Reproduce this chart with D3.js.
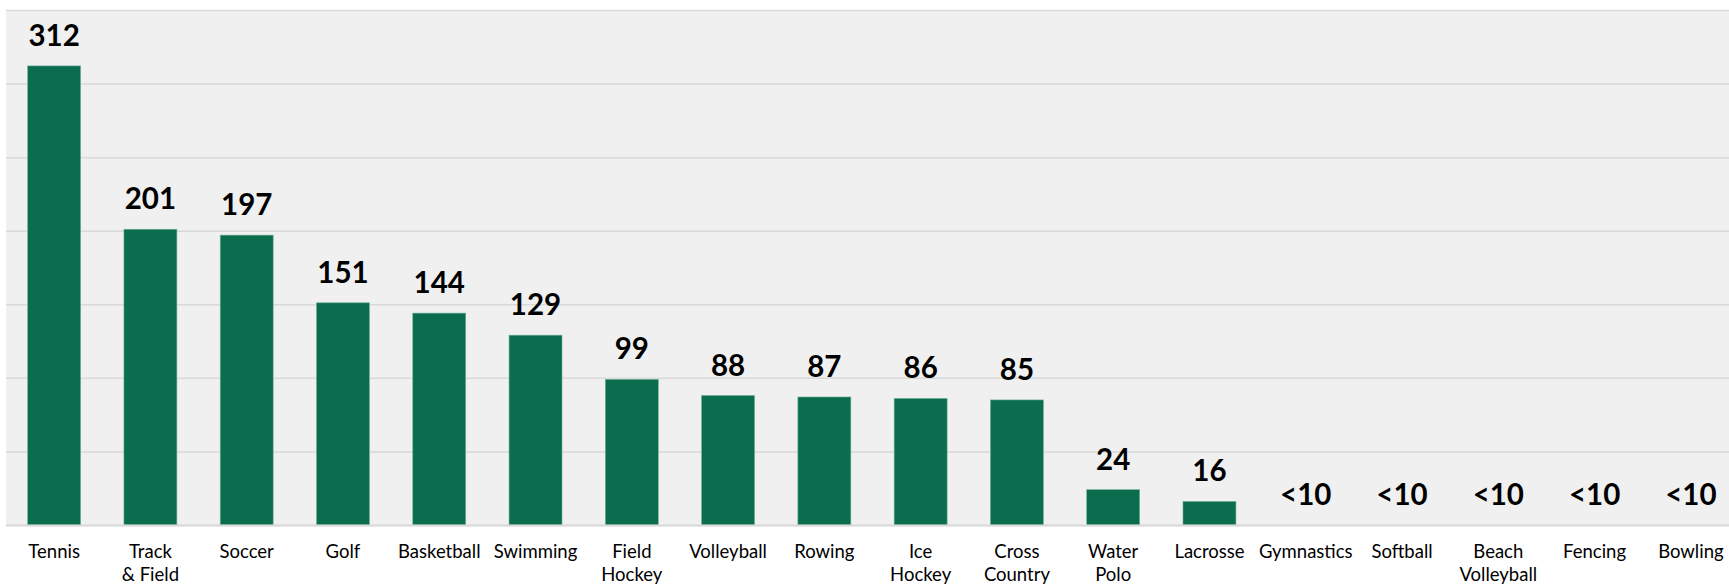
<!DOCTYPE html>
<html>
<head>
<meta charset="utf-8">
<script src="https://cdn.jsdelivr.net/npm/d3@7"></script>
<style>
	body { margin: 0; background: #ffffff; }
	svg { display: block; }
</style>
</head>
<body>
<main></main>
<script>
const sports = ["Tennis", "Track & Field", "Soccer", "Golf", "Basketball", "Swimming", "Field Hockey", "Volleyball", "Rowing", "Ice Hockey", "Cross Country", "Water Polo", "Lacrosse", "Gymnastics", "Softball", "Beach Volleyball", "Fencing", "Bowling"];
// how each category is written under the axis (line by line)
const sportLines = [["Tennis"], ["Track", "& Field"], ["Soccer"], ["Golf"], ["Basketball"], ["Swimming"], ["Field", "Hockey"], ["Volleyball"], ["Rowing"], ["Ice", "Hockey"], ["Cross", "Country"], ["Water", "Polo"], ["Lacrosse"], ["Gymnastics"], ["Softball"], ["Beach", "Volleyball"], ["Fencing"], ["Bowling"]];
const counts = [312, 201, 197, 151, 144, 129, 99, 88, 87, 86, 85, 24, 16, 0, 0, 0, 0, 0];
const countLabels = ["312", "201", "197", "151", "144", "129", "99", "88", "87", "86", "85", "24", "16", "<10", "<10", "<10", "<10", "<10"];
const yTicks = [0, 50, 100, 150, 200, 250, 300, 350];

function barChart() {
	const dataset = sports.map((s, i) => ({ sport: s, lines: sportLines[i], count: counts[i], label: countLabels[i] }));
	const xAccessor = d => d.sport;
	const yAccessor = d => d.count;

	let dimensions = {
		width: 1729,
		height: 584,
		margins: { top: 10, right: 0, bottom: 59, left: 6 },
	};
	dimensions.boundedWidth = 1733;
	dimensions.boundedHeight = dimensions.height - dimensions.margins.top - dimensions.margins.bottom;

	const entireChart = d3.select("main")
		.append("svg")
		.attr("width", dimensions.width)
		.attr("height", dimensions.height);

	const graph = entireChart.append("g")
		.attr("transform", `translate(${dimensions.margins.left}, ${dimensions.margins.top})`);

	const xScale = d3.scaleBand()
		.domain(dataset.map(xAccessor))
		.range([0, dimensions.boundedWidth])
		.paddingInner(0.45)
		.paddingOuter(0.225);

	const yScale = d3.scaleLinear()
		.domain([0, 350])
		.range([dimensions.boundedHeight, 0]);

	graph.append("rect")
		.attr("width", dimensions.boundedWidth)
		.attr("height", dimensions.boundedHeight)
		.attr("fill", "#f0f0f0");

	const yAxisGenerator = d3.axisLeft(yScale)
		.tickValues(yTicks)
		.tickSize(-dimensions.boundedWidth)
		.tickFormat("");

	const yAxis = graph.append("g").call(yAxisGenerator);
	yAxis.select(".domain").remove();
	yAxis.selectAll(".tick line")
		.attr("stroke", "#d9d9d9")
		.attr("stroke-width", 1.5);

	graph.selectAll(".bar")
		.data(dataset)
		.enter()
		.append("rect")
		.attr("class", "bar")
		.attr("x", d => xScale(xAccessor(d)))
		.attr("y", d => yScale(yAccessor(d)))
		.attr("width", xScale.bandwidth())
		.attr("height", d => dimensions.boundedHeight - yScale(yAccessor(d)))
		.attr("fill", "#0a6e4e")
		.attr("stroke", "#6fae95")
		.attr("stroke-width", d => yAccessor(d) > 0 ? 0.6 : 0);

	// baseline
	graph.append("line")
		.attr("x1", 0)
		.attr("x2", dimensions.boundedWidth)
		.attr("y1", dimensions.boundedHeight + 0.5)
		.attr("y2", dimensions.boundedHeight + 0.5)
		.attr("stroke", "#d9d9d9")
		.attr("stroke-width", 2);

	graph.selectAll(".value")
		.data(dataset)
		.enter()
		.append("text")
		.attr("class", "value")
		.attr("x", d => xScale(xAccessor(d)) + xScale.bandwidth() / 2)
		.attr("y", d => yScale(yAccessor(d)) - 20)
		.attr("text-anchor", "middle")
		.style("font-family", "Lato, 'Open Sans', sans-serif")
		.style("font-weight", "bold")
		.style("font-size", "29.5px")
		.attr("fill", "#000000")
		.text(d => d.label);

	const xAxisGenerator = d3.axisBottom(xScale)
		.tickSize(0)
		.tickFormat("");

	const xAxis = graph.append("g")
		.attr("transform", `translate(0, ${dimensions.boundedHeight})`)
		.call(xAxisGenerator);
	xAxis.select(".domain").remove();

	xAxis.selectAll(".tick")
		.data(dataset)
		.append("text")
		.attr("fill", "#000000")
		.attr("text-anchor", "middle")
		.style("font-family", "Lato, 'Open Sans', sans-serif")
		.style("font-size", "18.5px")
		.selectAll("tspan")
		.data(d => d.lines)
		.enter()
		.append("tspan")
		.attr("x", 0)
		.attr("y", (d, i) => 33 + i * 23)
		.text(d => d);
}
barChart();
</script>
</body>
</html>
